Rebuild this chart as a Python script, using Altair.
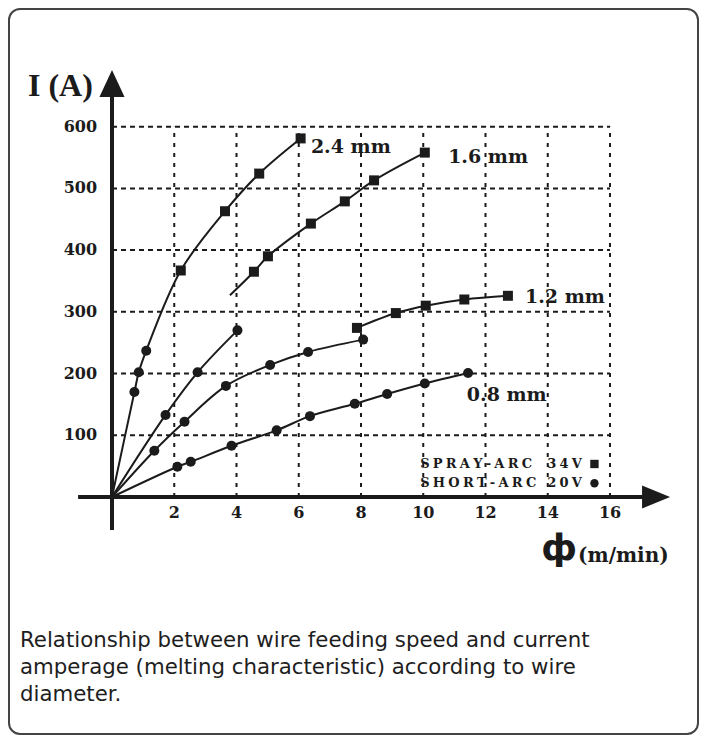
import altair as alt
import pandas as pd

# ---------------- data ----------------
# 2.4 mm wire: short-arc circles near the origin, spray-arc squares above
w24_x = [0, 0.72, 0.86, 1.10, 2.21, 3.63, 4.73, 6.06]
w24_y = [0, 170, 202, 237, 367, 463, 524, 581]
w24_m = ["", "circle", "circle", "circle", "square", "square", "square", "square"]

# 1.6 mm wire: spray-arc squares (curve starts without a marker)
w16_x = [3.79, 4.56, 5.01, 6.39, 7.48, 8.42, 10.05]
w16_y = [327, 365, 390, 443, 479, 513, 558]
w16_m = ["", "square", "square", "square", "square", "square", "square"]

# 1.2 mm wire: spray-arc squares
w12_x = [7.87, 9.12, 10.08, 11.32, 12.72]
w12_y = [274, 298, 310, 320, 326]
w12_m = ["square"] * 5

# short-arc circle curves
sa_x = [0, 1.72, 2.75, 4.03]
sa_y = [0, 133, 202, 270]
sb_x = [0, 1.36, 2.33, 3.66, 5.08, 6.30, 8.07]
sb_y = [0, 75, 122, 180, 214, 235, 255]
sc_x = [0, 2.10, 2.53, 3.84, 5.29, 6.36, 7.80, 8.84, 10.05, 11.44]
sc_y = [0, 49, 57, 83, 108, 131, 151, 167, 184, 201]

x_ticks = [2, 4, 6, 8, 10, 12, 14, 16]
y_ticks = [100, 200, 300, 400, 500, 600]

curve_labels = ["2.4 mm", "1.6 mm", "1.2 mm", "0.8 mm"]
curve_label_x = [6.39, 10.8, 13.27, 11.4]
curve_label_y = [567, 551, 324, 165]

SP = "\u2005"
legend_a = ["SPRAY-ARC", "SHORT-ARC"]
legend_b = ["34V", "20V"]
legend_shape = ["square", "circle"]

caption = [
    "Relationship between wire feeding speed and current",
    "amperage (melting characteristic) according to wire",
    "diameter.",
]

# ---------------- layout ----------------
W, H = 692, 728
X0, KX = 104.0, 31.125   # chart px of x=0, px per unit
Y0, KY = 489.0, 0.6172   # chart px of y=0, px per ampere
xs = alt.Scale(domain=[-X0 / KX, (W - X0) / KX], nice=False, zero=False)
ys = alt.Scale(domain=[(Y0 - H) / KY, Y0 / KY], nice=False, zero=False)
INK = "#1b1b1b"
SERIF = "DejaVu Serif"


def X(f):
    return alt.X(f, type="quantitative", scale=xs, axis=None)


def Y(f):
    return alt.Y(f, type="quantitative", scale=ys, axis=None)


rows = []
for name, xv, yv, mv in [
    ("2.4", w24_x, w24_y, w24_m),
    ("1.6", w16_x, w16_y, w16_m),
    ("1.2", w12_x, w12_y, w12_m),
    ("sa", sa_x, sa_y, [""] + ["circle"] * (len(sa_x) - 1)),
    ("sb", sb_x, sb_y, [""] + ["circle"] * (len(sb_x) - 1)),
    ("sc", sc_x, sc_y, [""] + ["circle"] * (len(sc_x) - 1)),
]:
    for a, b, m in zip(xv, yv, mv):
        rows.append({"series": name, "x": a, "y": b, "mark": m})
curves = pd.DataFrame(rows)

hgrid = pd.DataFrame({"y": y_ticks, "x0": 0, "x1": x_ticks[-1]})
vgrid = pd.DataFrame({"x": x_ticks, "y0": 0, "y1": y_ticks[-1]})

axes_df = pd.DataFrame({
    "x0": [0, -1.09], "x1": [0, 17.3],
    "y0": [-53.5, 0], "y1": [660, 0],
})

base = alt.Chart(curves)

grid_h = alt.Chart(hgrid).mark_rule(color=INK, strokeWidth=2, strokeDash=[5, 4]).encode(
    x=X("x0"), x2="x1", y=Y("y"))
grid_v = alt.Chart(vgrid).mark_rule(color=INK, strokeWidth=2, strokeDash=[4, 6]).encode(
    x=X("x"), y=Y("y0"), y2="y1")

axis_lines = alt.Chart(axes_df).mark_rule(color=INK, strokeWidth=4).encode(
    x=X("x0"), x2="x1", y=Y("y0"), y2="y1")

arrow_up = alt.Chart(pd.DataFrame({"x": [0], "y": [670]})).mark_point(
    shape="M0,-1L0.93,1L-0.93,1Z", size=729, filled=True, opacity=1,
    color=INK, strokeWidth=0).encode(x=X("x"), y=Y("y"))
arrow_right = alt.Chart(pd.DataFrame({"x": [17.48], "y": [0]})).mark_point(
    shape="M1,0L-1,0.82L-1,-0.82Z", size=784, filled=True, opacity=1,
    color=INK, strokeWidth=0).encode(x=X("x"), y=Y("y"))

lines = base.mark_line(interpolate="catmull-rom", color=INK, strokeWidth=2).encode(
    x=X("x"), y=Y("y"), detail="series:N")
squares = base.transform_filter(alt.datum.mark == "square").mark_square(
    size=100, color=INK, opacity=1).encode(x=X("x"), y=Y("y"))
circles = base.transform_filter(alt.datum.mark == "circle").mark_circle(
    size=100, color=INK, opacity=1).encode(x=X("x"), y=Y("y"))

ytl = alt.Chart(pd.DataFrame({"y": y_ticks, "x": -0.48, "t": [str(v) for v in y_ticks]})).mark_text(
    font=SERIF, fontWeight="bold", fontSize=16, align="right", baseline="middle", color=INK
).encode(x=X("x"), y=Y("y"), text="t:N")
xtl = alt.Chart(pd.DataFrame({"x": x_ticks, "y": -26.4, "t": [str(v) for v in x_ticks]})).mark_text(
    font=SERIF, fontWeight="bold", fontSize=16, align="center", baseline="middle", color=INK
).encode(x=X("x"), y=Y("y"), text="t:N")

clab = alt.Chart(pd.DataFrame({"t": curve_labels, "x": curve_label_x, "y": curve_label_y})).mark_text(
    font=SERIF, fontWeight="bold", fontSize=19, align="left", baseline="middle", color=INK
).encode(x=X("x"), y=Y("y"), text="t:N")

leg_df = pd.DataFrame({
    "a": [SP.join(s) for s in legend_a],
    "b": [SP.join(s) for s in legend_b],
    "shape": legend_shape,
    "y": [53.5, 22.2],
    "xa": 9.9, "xb": 13.98, "xm": 15.5,
})
leg_a = alt.Chart(leg_df).mark_text(font=SERIF, fontWeight="bold", fontSize=13, align="left",
                                    baseline="middle", color=INK).encode(x=X("xa"), y=Y("y"), text="a:N")
leg_b = alt.Chart(leg_df).mark_text(font=SERIF, fontWeight="bold", fontSize=13, align="left",
                                    baseline="middle", color=INK).encode(x=X("xb"), y=Y("y"), text="b:N")
leg_m = alt.Chart(leg_df).mark_point(filled=True, opacity=1, size=70, color=INK, strokeWidth=0).encode(
    x=X("xm"), y=Y("y"),
    shape=alt.Shape("shape:N", scale=alt.Scale(domain=["square", "circle"], range=["square", "circle"]),
                    legend=None))

title_y = alt.Chart(pd.DataFrame({"t": ["I (A)"]})).mark_text(
    font="Liberation Serif", fontWeight="bold", fontSize=32, align="left", baseline="alphabetic", color=INK
).encode(x=alt.value(20), y=alt.value(88), text="t:N")
title_phi = alt.Chart(pd.DataFrame({"t": ["ф"]})).mark_text(
    font="DejaVu Sans", fontWeight="bold", fontSize=36, align="center", baseline="middle", color=INK
).encode(x=alt.value(551), y=alt.value(541), text="t:N")
title_x = alt.Chart(pd.DataFrame({"t": ["(m/min)"]})).mark_text(
    font=SERIF, fontWeight="bold", fontSize=20, align="left", baseline="alphabetic", color=INK
).encode(x=alt.value(570), y=alt.value(554), text="t:N")

cap_df = pd.DataFrame({"t": caption, "i": list(range(len(caption)))})
cap = alt.Chart(cap_df).mark_text(
    font="DejaVu Sans", fontSize=21.3, align="left", baseline="middle", color="#1e1e1e"
).encode(x=alt.value(12), y=alt.Y("i:Q", scale=alt.Scale(domain=[0, 1], range=[633, 660]), axis=None),
         text="t:N")

border = alt.Chart(pd.DataFrame({"k": [0]})).mark_rect(
    fill=None, fillOpacity=0, stroke="#444444", strokeWidth=2, cornerRadius=11
).encode(x=alt.value(1), x2=alt.value(690), y=alt.value(1), y2=alt.value(H - 2))

chart = alt.layer(
    border, grid_h, grid_v, axis_lines, arrow_up, arrow_right,
    lines, squares, circles, ytl, xtl, clab, leg_a, leg_b, leg_m,
    title_y, title_phi, title_x, cap,
).resolve_scale(y="independent").properties(
    width=W, height=H, autosize=alt.AutoSizeParams(type="none"), padding=0
).configure_view(stroke=None)

chart.save("out.html", embed_options={"renderer": "svg", "actions": False})
